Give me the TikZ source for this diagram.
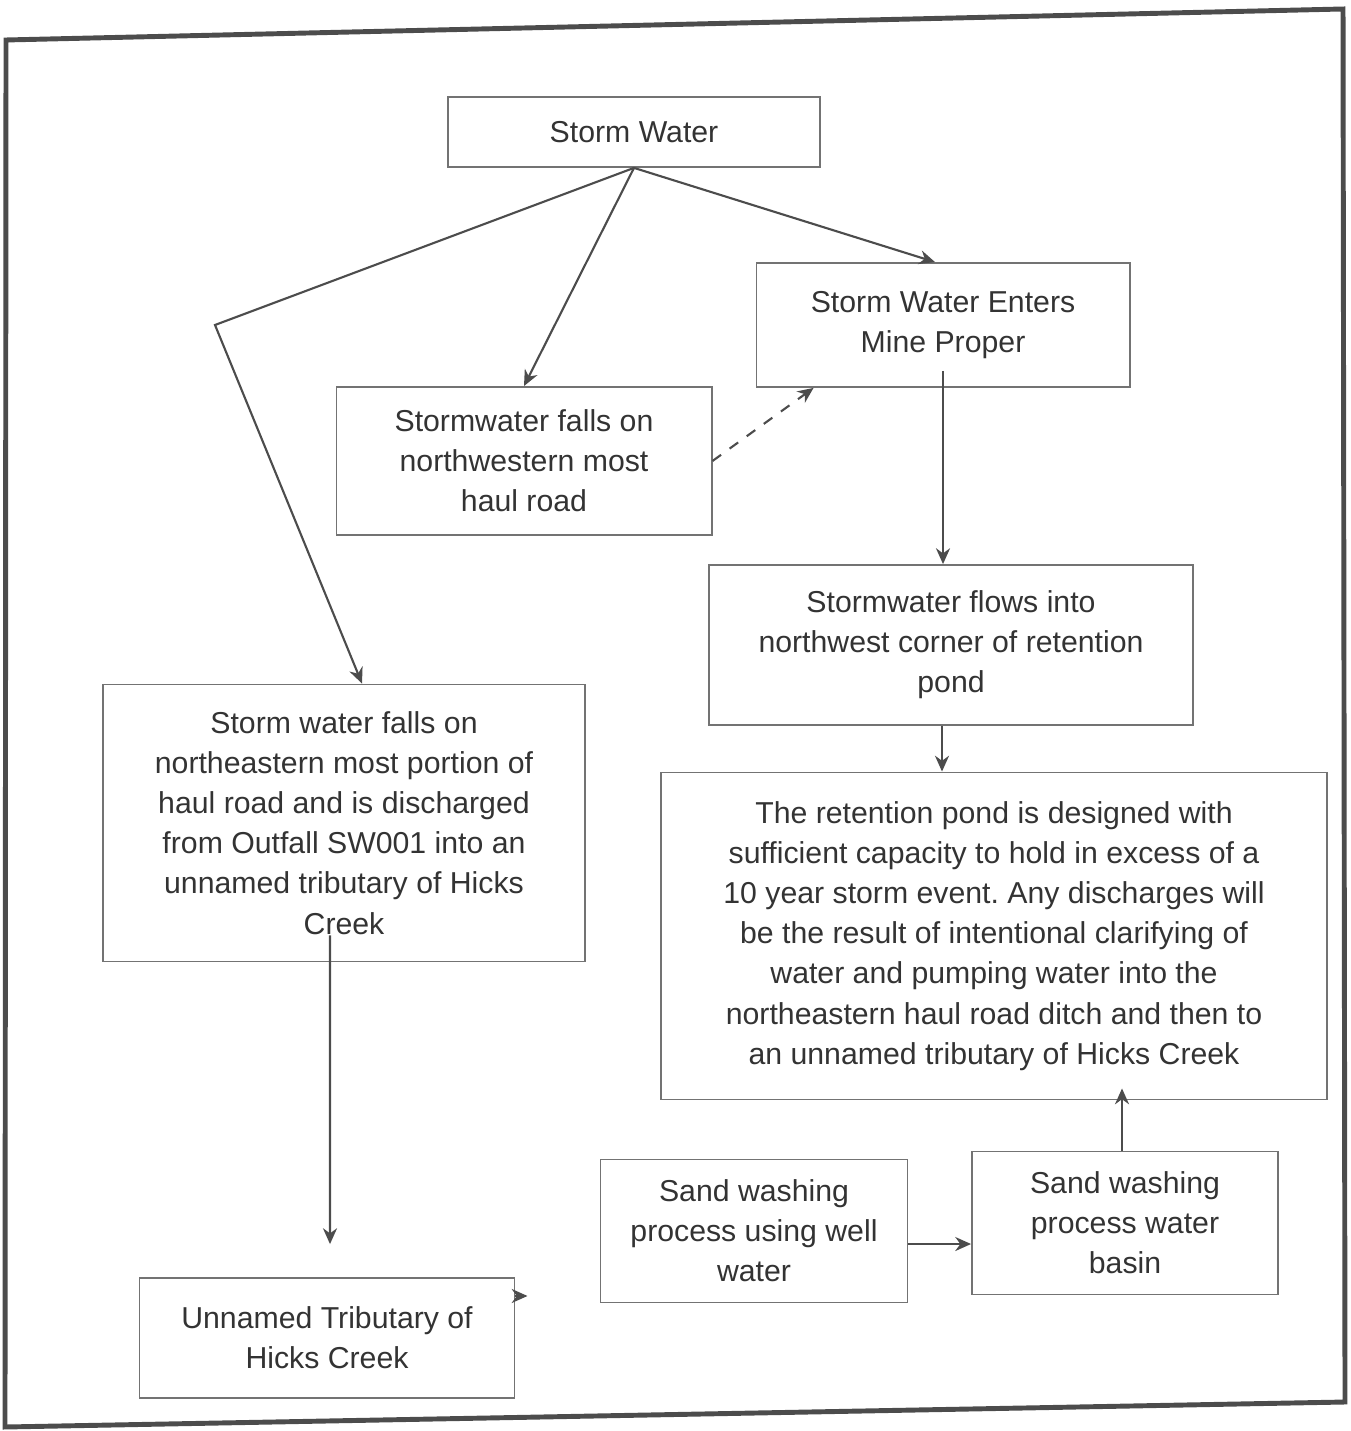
\documentclass[tikz,border=0pt]{standalone}
\usepackage{fontspec}
\setmainfont{Liberation Sans}
\usetikzlibrary{arrows.meta}
\frenchspacing

\begin{document}
\begin{tikzpicture}[x=0.01cm, y=-0.01cm, >={Stealth[length=4.5pt,width=4pt]},
    box/.style={draw=black!55, line width=0.5pt, align=center, inner sep=2pt,
                text=black!80, font=\fontsize{8.6}{11.4}\selectfont},
    flow/.style={->, draw=black!70, line width=0.6pt}]
  \useasboundingbox (0,0) rectangle (1350,1431);
  % outer frame
  \draw[black!70, line width=1.4pt]
    (6,40) -- (1343,9) -- (1345,1402) -- (5,1427) -- cycle;

  \node[box, minimum width=3.72cm, minimum height=0.70cm] (sw) at (634,132)
    {Storm Water};
  \node[box, minimum width=3.73cm, minimum height=1.24cm] (mine) at (943,325)
    {Storm Water Enters\\Mine Proper};
  \node[box, minimum width=3.75cm, minimum height=1.48cm] (nw) at (524,461)
    {Stormwater falls on\\northwestern most\\haul road};
  \node[box, minimum width=4.83cm, minimum height=1.60cm] (flows) at (951,645)
    {Stormwater flows into\\northwest corner of retention\\pond};
  \node[box, minimum width=4.82cm, minimum height=2.77cm] (ne) at (344,823)
    {Storm water falls on\\northeastern most portion of\\haul road and is discharged\\
     from Outfall SW001 into an\\unnamed tributary of Hicks\\Creek};
  \node[box, minimum width=6.65cm, minimum height=3.27cm] (pond) at (994,936)
    {The retention pond is designed with\\sufficient capacity to hold in excess of a\\
     10 year storm event. Any discharges will\\be the result of intentional clarifying of\\
     water and pumping water into the\\northeastern haul road ditch and then to\\
     an unnamed tributary of Hicks Creek};
  \node[box, minimum width=3.07cm, minimum height=1.43cm] (well) at (754,1231)
    {Sand washing\\process using well\\water};
  \node[box, minimum width=3.06cm, minimum height=1.43cm] (basin) at (1125,1223)
    {Sand washing\\process water\\basin};
  \node[box, minimum width=3.75cm, minimum height=1.20cm] (trib) at (327,1338)
    {Unnamed Tributary of\\Hicks Creek};

  \coordinate (bend) at (215,325);

  \draw[flow] (sw.south) -- (bend) -- ([xshift=0.18cm]ne.north);
  \draw[flow] (sw.south) -- (nw.north);
  \draw[flow] (sw.south) -- ([xshift=-0.08cm]mine.north);
  \draw[flow, dashed] (nw.east) -- ([xshift=0.58cm]mine.south west);
  \draw[flow] ([yshift=0.17cm]mine.south) -- (mine.south |- flows.north);
  \draw[flow] ([xshift=-0.09cm]flows.south) -- ([xshift=-0.09cm]flows.south |- pond.north);
  \draw[flow] ([xshift=-0.14cm,yshift=0.27cm]ne.south)
    -- ([xshift=0.03cm,yshift=0.33cm]trib.north);
  \draw[flow] ([yshift=-0.13cm]well.east) -- ([yshift=-0.13cm]well.east -| basin.west);
  \draw[flow] ([xshift=-0.03cm]basin.north) -- ([xshift=-0.03cm,yshift=0.12cm]basin.north |- pond.south);
  \draw[flow] ([yshift=0.42cm]trib.east) -- ++(12,0);
\end{tikzpicture}
\end{document}
